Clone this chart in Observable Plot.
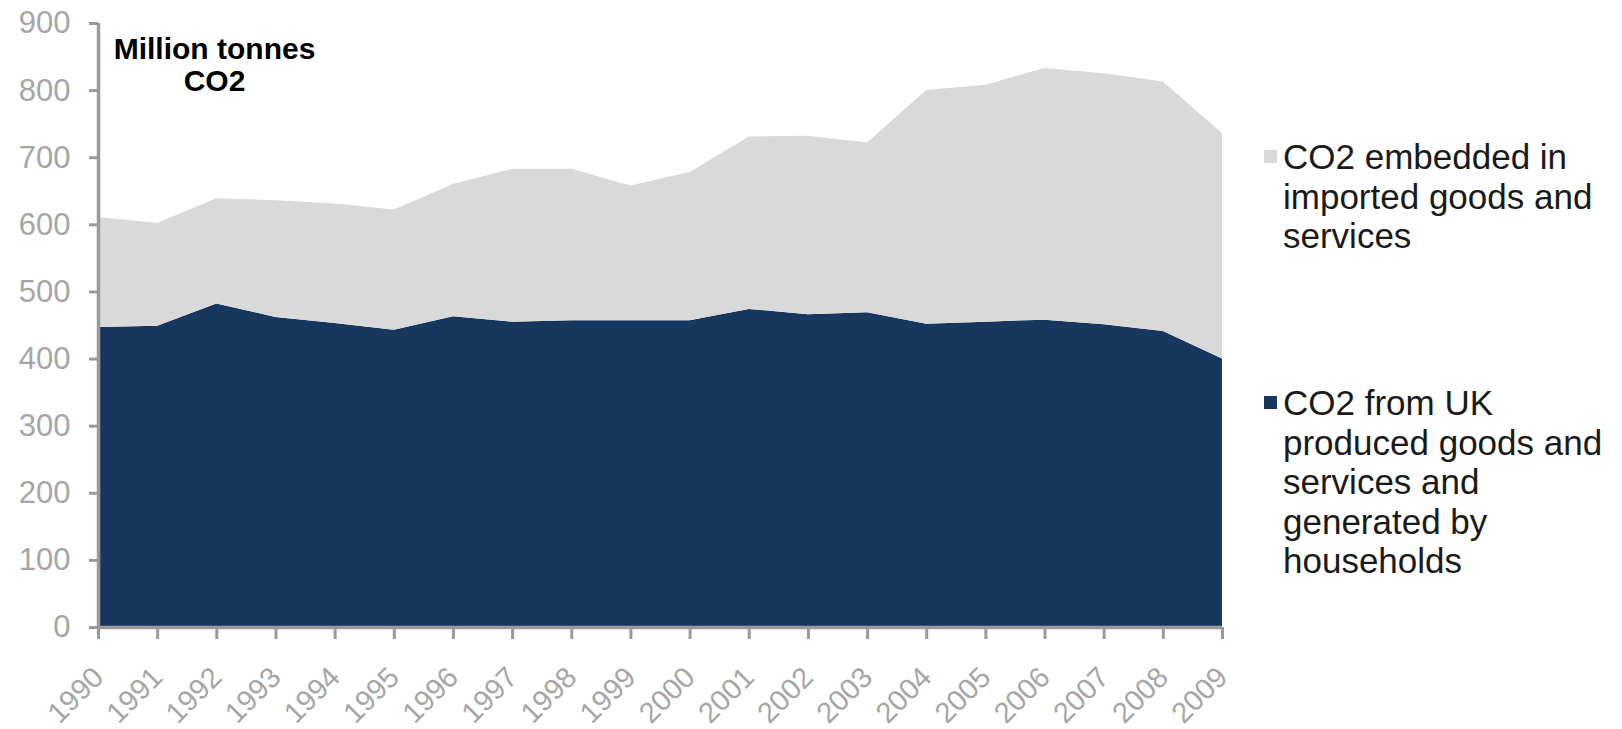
<!DOCTYPE html>
<html><head><meta charset="utf-8">
<script src="https://cdn.jsdelivr.net/npm/d3@7"></script>
<script src="https://cdn.jsdelivr.net/npm/@observablehq/plot@0.6"></script>
<style>
html,body{margin:0;padding:0;background:#fff;}
#wrap{position:relative;width:1622px;height:729px;font-family:"Liberation Sans",Arial,sans-serif;}
.leg{position:absolute;font-size:35px;line-height:39.5px;color:#1a1a1a;white-space:nowrap;}
.sw{position:absolute;width:13px;height:13px;}
</style></head><body><div id="wrap"></div>
<script>
const years = [1990,1991,1992,1993,1994,1995,1996,1997,1998,1999,2000,2001,2002,2003,2004,2005,2006,2007,2008,2009];
const ukProduced = [447,449,482,462,453,443,463,455,457,457,457,474,466,469,452,455,458,451,441,400];
const imported   = [164,153,157,174,178,179,197,228,226,201,221,257,266,253,348,353,375,374,372,336];
const yTicks = [0,100,200,300,400,500,600,700,800,900];
const seriesNames = [
  "CO2 from UK produced goods and services and generated by households",
  "CO2 embedded in imported goods and services"
];
const seriesColors = ["#17375e", "#d9d9d9"];
const titleText = "Million tonnes\nCO2";
const legendLines = [
  ["CO2 embedded in", "imported goods and", "services"],
  ["CO2 from UK", "produced goods and", "services and", "generated by", "households"]
];

const rows = years.flatMap((yr, i) => [
  {year: yr, series: seriesNames[0], value: ukProduced[i]},
  {year: yr, series: seriesNames[1], value: imported[i]}
]);

const axisColor = "#9a9a9a";
const labelColor = "#a6a6a6";

const chart = Plot.plot({
  width: 1622,
  height: 729,
  marginLeft: 98,
  marginRight: 400,
  marginTop: 23,
  marginBottom: 102,
  style: {fontFamily: "'Liberation Sans', Arial, sans-serif", background: "white", overflow: "visible"},
  x: {domain: [1990, 2009]},
  y: {domain: [0, 900]},
  color: {domain: seriesNames, range: seriesColors},
  marks: [
    Plot.areaY(rows, {x: "year", y: "value", fill: "series", order: seriesNames}),
    Plot.axisY({ticks: yTicks, tickSize: 9, tickPadding: 19, fontSize: 31, color: labelColor, stroke: axisColor, strokeWidth: 3, label: null}),
    Plot.axisX({ticks: years, tickFormat: d => String(d), tickRotate: -45, tickSize: 12, tickPadding: 33, fontSize: 29, color: labelColor, stroke: axisColor, strokeWidth: 3, label: null}),
    Plot.ruleY([0], {stroke: axisColor, strokeWidth: 3.5}),
    Plot.ruleX([1990], {stroke: axisColor, strokeWidth: 3.5}),
    Plot.text([titleText], {text: d => d, frameAnchor: "top-left", dx: 116, dy: 12, textAnchor: "middle", lineAnchor: "top", lineHeight: 1.08, fontSize: 30, fontWeight: "bold", fill: "#000"})
  ]
});

const wrap = document.getElementById("wrap");
wrap.appendChild(chart);

// legend (HTML, placed in the right-hand area)
const legendTops = [137, 383];
const swatchTops = [150, 396];
const legendOrder = [1, 0];
legendLines.forEach((lines, k) => {
  const sw = document.createElement("div");
  sw.className = "sw";
  sw.style.left = "1264px";
  sw.style.top = swatchTops[k] + "px";
  sw.style.background = seriesColors[legendOrder[k]];
  wrap.appendChild(sw);
  const t = document.createElement("div");
  t.className = "leg";
  t.style.left = "1283px";
  t.style.top = legendTops[k] + "px";
  t.innerHTML = lines.join("<br>");
  wrap.appendChild(t);
});
</script>
</body></html>
